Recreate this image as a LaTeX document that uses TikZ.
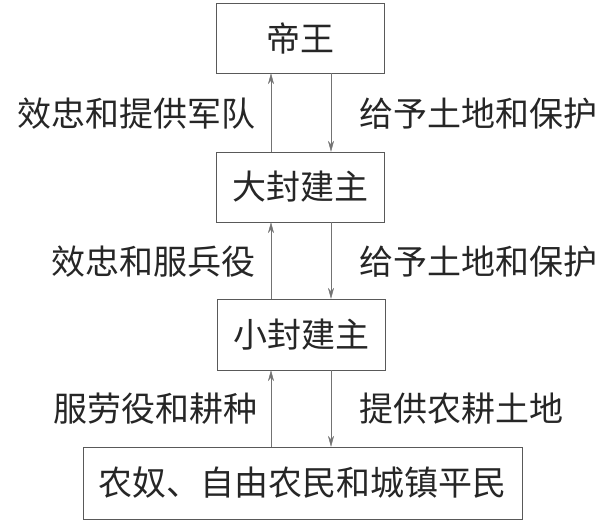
\documentclass[tikz,border=0pt]{standalone}
\usepackage{fontspec}
\newfontfamily\cjk{Noto Sans CJK SC}
\usetikzlibrary{arrows.meta}

\tikzset{
  rank/.style={draw=black!65,thin,minimum width=168pt,minimum height=70pt,inner sep=0pt,
    font=\cjk\fontsize{34pt}{34pt}\selectfont,text=black!85},
  duty/.style={inner sep=0pt,font=\cjk\fontsize{34pt}{34pt}\selectfont,text=black!85},
  link/.style={draw=black!55,thin,-{Stealth[length=11pt,width=6pt]}}
}

\begin{document}
\begin{tikzpicture}[x=1pt,y=-1pt]
      \useasboundingbox (0,0) rectangle (607,523);

      \node (king) at (300,38) [rank]{帝王};
      \node (big) at (300,187) [rank]{大封建主};
      \node (small) at (301,334.5) [rank,minimum height=71pt]{小封建主};
      \node (people) at (302.5,483) [rank,minimum width=439pt,minimum height=72pt]{农奴、自由农民和城镇平民};

      \coordinate (up) at (271,0);
      \coordinate (down) at (331,0);

      \draw[link] (big.north -| up)--(king.south -| up);
      \draw[link] (king.south -| down)--(big.north -| down);
      \draw[link] (small.north -| up)--(big.south -| up);
      \draw[link] (big.south -| down)--(small.north -| down);
      \draw[link] (people.north -| up)--(small.south -| up);
      \draw[link] (small.south -| down)--(people.north -| down);

      \node (give1) at (256,114) [duty,anchor=east]{效忠和提供军队};
      \node (take1) at (359,114) [duty,anchor=west]{给予土地和保护};
      \node (give2) at (256,262) [duty,anchor=east]{效忠和服兵役};
      \node (take2) at (359,262) [duty,anchor=west]{给予土地和保护};
      \node (give3) at (258,409) [duty,anchor=east]{服劳役和耕种};
      \node (take3) at (359,409) [duty,anchor=west]{提供农耕土地};
    \end{tikzpicture}
\end{document}
